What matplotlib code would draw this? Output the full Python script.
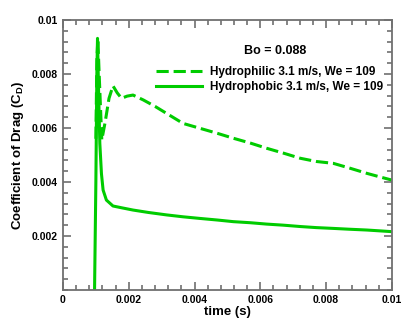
import matplotlib
matplotlib.use('Agg')
import matplotlib.pyplot as plt
from matplotlib.ticker import MultipleLocator

plt.rcParams['font.family'] = ['Liberation Sans', 'DejaVu Sans']
plt.rcParams['font.weight'] = 'bold'
plt.rcParams['axes.labelweight'] = 'bold'
plt.rcParams['mathtext.fontset'] = 'custom'
plt.rcParams['mathtext.rm'] = 'Liberation Sans:bold'
plt.rcParams['mathtext.it'] = 'Liberation Sans:bold'
plt.rcParams['mathtext.bf'] = 'Liberation Sans:bold'

# values (time in s, Cd)
t_phobic = [0.00096, 0.00100, 0.00103, 0.00105, 0.00108, 0.00112, 0.00117, 0.00122, 0.00132,
            0.00152, 0.00180, 0.00213, 0.00260, 0.00315, 0.00365, 0.00416, 0.00470, 0.00518,
            0.00570, 0.00619, 0.00670, 0.00721, 0.00770, 0.00822, 0.00870, 0.00924, 0.01000]
cd_phobic = [0.0, 0.0040, 0.0080, 0.00932, 0.0075, 0.00543, 0.0043, 0.0037, 0.00333,
             0.00311, 0.00304, 0.00296, 0.00287, 0.00278, 0.00271, 0.00265, 0.00259, 0.00253,
             0.00249, 0.00244, 0.00240, 0.00235, 0.00231, 0.00228, 0.00225, 0.00222, 0.00216]

t_philic = [0.00100, 0.00103, 0.00106, 0.00110, 0.00118, 0.00128, 0.00140, 0.00152, 0.00165,
            0.00178, 0.00195, 0.00213, 0.00244, 0.00280, 0.00315, 0.00365, 0.00416, 0.00470,
            0.00518, 0.00570, 0.00619, 0.00670, 0.00721, 0.00770, 0.00822, 0.00870, 0.00924,
            0.00960, 0.01000]
cd_philic = [0.0056, 0.0085, 0.0093, 0.0080, 0.00556, 0.0062, 0.0071, 0.00756, 0.0073,
             0.0071, 0.00718, 0.00722, 0.00704, 0.00680, 0.00654, 0.00617, 0.00599, 0.00580,
             0.00562, 0.00544, 0.00525, 0.00507, 0.00488, 0.00476, 0.00469, 0.00452, 0.00432,
             0.00420, 0.00407]

x_ticks = [0, 0.002, 0.004, 0.006, 0.008, 0.01]
x_labels = ['0', '0.002', '0.004', '0.006', '0.008', '0.01']
y_ticks = [0.002, 0.004, 0.006, 0.008, 0.01]
y_labels = ['0.002', '0.004', '0.006', '0.008', '0.01']

green = '#00cc00'
grey = '#707070'

fig = plt.figure(figsize=(4.09, 3.28), dpi=100)
ax = fig.add_axes([0.154, 0.116, 0.804, 0.823])

ax.plot(t_philic, cd_philic, color=green, lw=2.2, ls=(0, (4, 1.6)),
        label='Hydrophilic 3.1 m/s, We = 109')
ax.plot(t_phobic, cd_phobic, color=green, lw=2.2,
        label='Hydrophobic 3.1 m/s, We = 109')

ax.set_xlim(0, 0.01)
ax.set_ylim(0, 0.01)
ax.set_xticks(x_ticks)
ax.set_xticklabels(x_labels)
ax.set_yticks(y_ticks)
ax.set_yticklabels(y_labels)
ax.xaxis.set_minor_locator(MultipleLocator(0.0004))
ax.yaxis.set_minor_locator(MultipleLocator(0.0004))
ax.tick_params(which='both', direction='in', top=True, right=True, colors=grey,
               labelcolor='black', labelsize=7.5, width=1.2)
ax.tick_params(which='major', length=6)
ax.tick_params(which='minor', length=3.5)
for s in ax.spines.values():
    s.set_color(grey)
    s.set_linewidth(1.3)

ax.set_xlabel('time (s)', fontsize=9.5, labelpad=1)
ax.set_ylabel('Coefficient of Drag (C$_{D}$)', fontsize=9.5, labelpad=4)

ax.text(0.645, 0.885, 'Bo = 0.088', transform=ax.transAxes, fontsize=9,
        ha='center', va='center')
ax.legend(loc='upper right', bbox_to_anchor=(1.0, 0.86), frameon=False,
          fontsize=8.5, handlelength=3.9, handletextpad=0.7, labelspacing=0.25,
          borderaxespad=0.3)

fig.savefig('out.png', dpi=100)
